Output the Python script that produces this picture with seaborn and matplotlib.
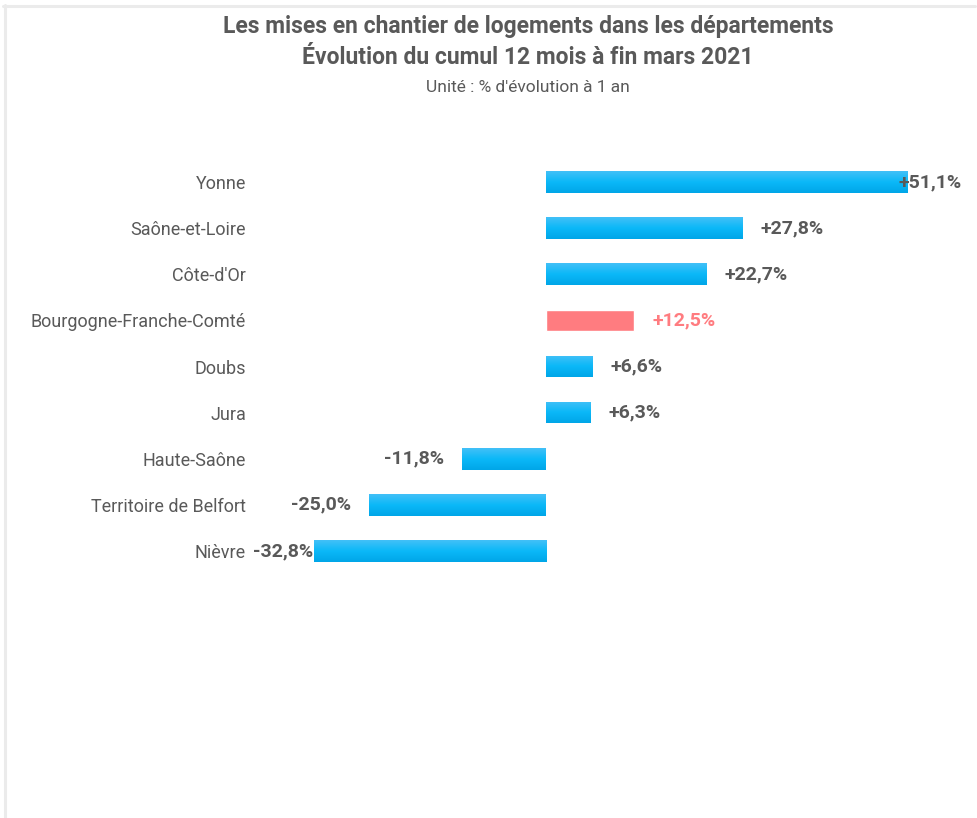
import numpy as np
import pandas as pd
import matplotlib
matplotlib.use("Agg")
import matplotlib.pyplot as plt
import seaborn as sns
from matplotlib.colors import LinearSegmentedColormap
from matplotlib.lines import Line2D

# ---- data ----
categories = ["Yonne", "Saône-et-Loire", "Côte-d'Or", "Bourgogne-Franche-Comté",
              "Doubs", "Jura", "Haute-Saône", "Territoire de Belfort", "Nièvre"]
values = [51.1, 27.8, 22.7, 12.5, 6.6, 6.3, -11.8, -25.0, -32.8]
highlight = "Bourgogne-Franche-Comté"

title_lines = ["Les mises en chantier de logements dans les départements",
               "Évolution du cumul 12 mois à fin mars 2021"]
subtitle = "Unité : % d'évolution à 1 an"

BLUE = "#0bb6f5"
PINK = "#ff7c80"
TXT = "#595959"

sns.set_theme(style="white")
plt.rcParams["font.family"] = ["Roboto", "DejaVu Sans"]

df = pd.DataFrame({"cat": categories, "val": values})
df["grp"] = np.where(df["cat"] == highlight, "h", "n")

W, H = 977, 818
fig = plt.figure(figsize=(W / 100, H / 100), dpi=100)
fig.patch.set_facecolor("white")

ax_l, ax_r = 253, 962
ax_t, ax_b = 159, 574
ax = fig.add_axes([ax_l / W, 1 - ax_b / H, (ax_r - ax_l) / W, (ax_b - ax_t) / H])

sns.barplot(data=df, y="cat", x="val", hue="grp", palette={"h": PINK, "n": BLUE},
            order=categories, orient="h", width=0.47, legend=False, dodge=False,
            ax=ax, saturation=1)

xlim = (-41.4, 58.8)
ax.set_xlim(*xlim)
ax.set_ylim(8.5, -0.5)

# gradient on the blue bars
cmap = LinearSegmentedColormap.from_list("g", ["#42c0f7", "#0bb8f8", "#00a6e8"])
grad = np.linspace(0, 1, 64).reshape(-1, 1)
for p in list(ax.patches):
    fc = matplotlib.colors.to_hex(p.get_facecolor())
    if fc.lower() != PINK.lower():
        x, y = p.get_x(), p.get_y()
        w, h = p.get_width(), p.get_height()
        im = ax.imshow(grad, extent=[min(x, x + w), max(x, x + w), y + h, y],
                       aspect="auto", cmap=cmap, origin="upper",
                       zorder=p.get_zorder() + 0.1, interpolation="bilinear")
        im.set_clip_path(p)
ax.set_xlim(*xlim)
ax.set_ylim(8.5, -0.5)

for s in ax.spines.values():
    s.set_visible(False)
ax.set_xticks([])
ax.set_xlabel("")
ax.set_ylabel("")
ax.tick_params(axis="y", length=0, pad=5, labelsize=13, labelcolor=TXT)
for lab in ax.get_yticklabels():
    lab.set_color(TXT)

# value labels
anns = []
for i, (c, v) in enumerate(zip(categories, values)):
    col = PINK if c == highlight else TXT
    txt = ("+" if v > 0 else "") + f"{v:.1f}".replace(".", ",") + "%"
    off = 13 if v >= 0 else -13
    a = ax.annotate(txt, xy=(v, i), xytext=(off, 0), textcoords="offset points",
                    ha="left" if v >= 0 else "right", va="center",
                    fontsize=14, fontweight="bold", color=col, zorder=5,
                    annotation_clip=False)
    anns.append((a, off))

fig.canvas.draw()
r = fig.canvas.get_renderer()
axbb = ax.get_window_extent(r)
for a, off in anns:
    bb = a.get_window_extent(r)
    if bb.x1 > axbb.x1:
        shift = (bb.x1 - axbb.x1) * 72 / fig.dpi
        a.xyann = (off - shift, 0)
    elif bb.x0 < axbb.x0:
        shift = (axbb.x0 - bb.x0) * 72 / fig.dpi
        a.xyann = (off + shift, 0)

# titles
cx = 0.5 * (218 + 838) / W
fig.text(cx, 1 - 27 / H, title_lines[0], ha="center", va="center",
         fontsize=16.5, fontweight="bold", color=TXT)
fig.text(cx, 1 - 58 / H, title_lines[1], ha="center", va="center",
         fontsize=16.5, fontweight="bold", color=TXT)
fig.text(cx, 1 - 88 / H, subtitle, ha="center", va="center",
         fontsize=12.5, color=TXT)

# light frame (top and left)
fig.add_artist(Line2D([3 / W, 975 / W], [1 - 6 / H, 1 - 6 / H], transform=fig.transFigure,
                      color="#ebebeb", lw=2.2))
fig.add_artist(Line2D([4.5 / W, 4.5 / W], [1 - 5 / H, 0], transform=fig.transFigure,
                      color="#ebebeb", lw=2.2))

fig.savefig("out.png", dpi=100, facecolor="white")
